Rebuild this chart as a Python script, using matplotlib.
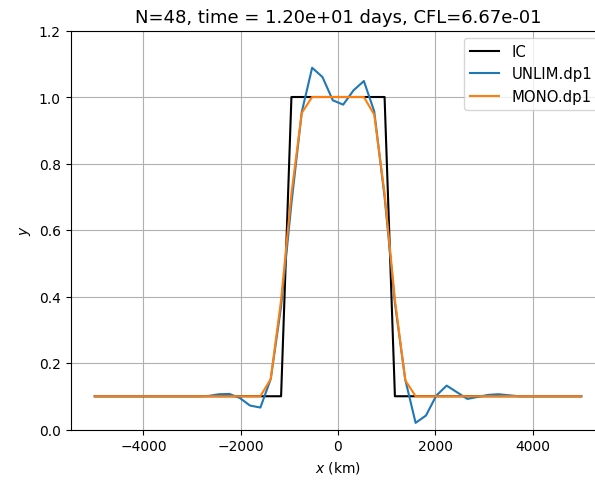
import numpy as np
import matplotlib
matplotlib.use("Agg")
import matplotlib.pyplot as plt

N = 48
x_km = np.linspace(-5000, 5000, N)

ic = [0.1] * 19 + [1.0] * 10 + [0.1] * 19

unlim = [0.1, 0.1, 0.1, 0.1, 0.1, 0.1, 0.1, 0.1, 0.1, 0.1,
         0.1, 0.101, 0.106, 0.107, 0.095, 0.072, 0.066, 0.152, 0.37, 0.68,
         0.955, 1.088, 1.060, 0.990, 0.977, 1.020, 1.048, 0.957, 0.70, 0.38,
         0.150, 0.020, 0.042, 0.102, 0.132, 0.112, 0.092, 0.098, 0.104, 0.106,
         0.103, 0.1, 0.1, 0.1, 0.1, 0.1, 0.1, 0.1]

mono = [0.1] * 17 + [0.152, 0.39, 0.71, 0.952] + [1.0] * 6 + [0.947, 0.71, 0.39, 0.148] + [0.1] * 17

title = "N=48, time = 1.20e+01 days, CFL=6.67e-01"

fig = plt.figure(figsize=(5.95, 4.81), dpi=100)
ax = fig.add_axes([70.5 / 595, 50.5 / 481, 535 / 595, 399 / 481])
ax.plot(x_km, ic, color="black", label="IC")
ax.plot(x_km, unlim, color="C0", label="UNLIM.dp1")
ax.plot(x_km, mono, color="C1", label="MONO.dp1")
ax.set_ylim(0, 1.2)
ax.set_yticks(np.arange(0, 1.21, 0.2))
ax.grid(True)
ax.set_xlabel("$x$ (km)")
ax.set_ylabel("$y$")
ax.set_title(title, fontsize=13)
ax.legend(loc="upper right", fontsize=10.7)
fig.savefig("out.png", dpi=100)
